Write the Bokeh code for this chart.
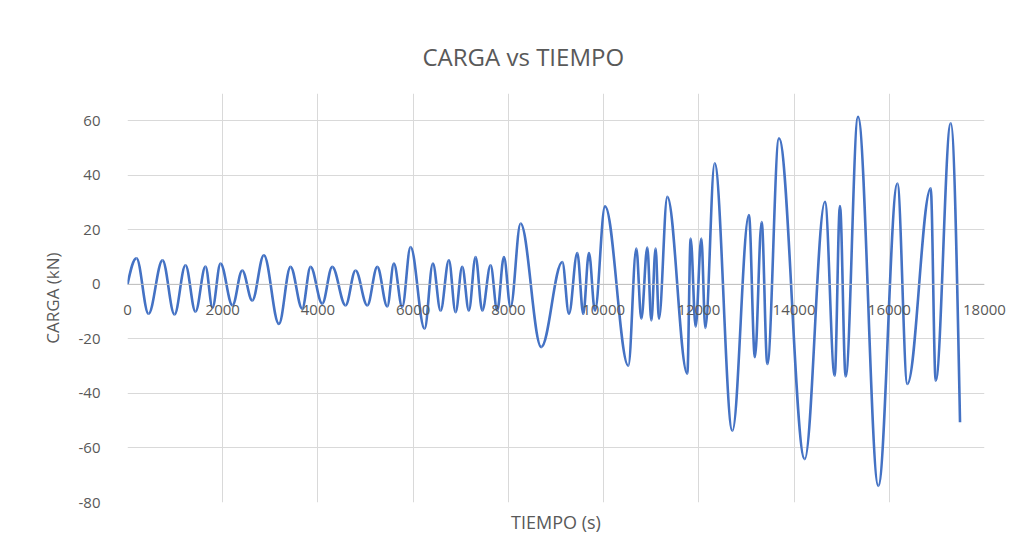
from bokeh.plotting import figure
from bokeh.models import ColumnDataSource, FixedTicker, Title, Span, Range1d
from bokeh.embed import file_html
from bokeh.resources import INLINE

# Load history (turning points of the curve)
tiempo = [0, 189, 441, 735, 987, 1218, 1428, 1638, 1785, 1953,
          2205, 2410, 2620, 2864, 3180, 3424, 3670, 3845, 4090, 4300,
          4580, 4790, 5036, 5246, 5456, 5595, 5770, 5945, 6240, 6414,
          6576, 6750, 6891, 7030, 7170, 7311, 7451, 7626, 7766, 7906,
          8046, 8256, 8690, 9132, 9272, 9447, 9573, 9692, 9818, 10030,
          10519, 10687, 10792, 10918, 11002, 11092, 11162, 11338, 11758, 11828,
          11933, 12052, 12137, 12332, 12704, 13052, 13178, 13319, 13439, 13683,
          14223, 14649, 14853, 14964, 15084, 15343, 15770, 16170, 16380, 16870,
          16975, 17290, 17486]
carga = [0, 9.6, -10.8, 8.8, -11.0, 7.0, -10.0, 6.5, -8.5, 7.6,
         -7.7, 5.1, -5.9, 10.7, -14.5, 6.4, -8.9, 6.4, -7.1, 6.4,
         -7.7, 5.1, -7.7, 6.4, -8.1, 7.6, -8.3, 13.7, -16.3, 7.6,
         -9.6, 8.8, -10.2, 6.4, -9.6, 10.0, -9.6, 7.0, -9.6, 10.0,
         -8.3, 22.3, -23.0, 8.2, -10.8, 11.5, -10.8, 11.5, -9.6, 28.6,
         -29.8, 13.1, -12.6, 13.5, -13.2, 13.1, -12.6, 32.1, -32.8, 16.8,
         -15.5, 16.8, -16.0, 44.4, -53.7, 25.4, -26.7, 22.9, -29.2, 53.6,
         -64.1, 30.3, -33.5, 28.7, -33.8, 61.5, -73.9, 37.0, -36.5, 35.2,
         -35.3, 59.1, -50.6]

x_ticks = [0, 2000, 4000, 6000, 8000, 10000, 12000, 14000, 16000, 18000]
y_ticks = [-80, -60, -40, -20, 0, 20, 40, 60]

titulo = "CARGA vs TIEMPO"
eje_x = "TIEMPO (s)"
eje_y = "CARGA (kN)"

# Smooth (Excel-like) rendering: cubic Bezier segments between turning points
k = 0.36
n = len(tiempo)
seg = dict(x0=[], y0=[], x1=[], y1=[], cx0=[], cy0=[], cx1=[], cy1=[])
for i in range(n - 1):
    xa, ya, xb, yb = tiempo[i], carga[i], tiempo[i + 1], carga[i + 1]
    dx, dy = xb - xa, yb - ya
    seg["x0"].append(xa); seg["y0"].append(ya)
    seg["x1"].append(xb); seg["y1"].append(yb)
    seg["cx0"].append(xa + k * dx)
    seg["cy0"].append(ya if i > 0 else ya + 0.57 * dy)
    seg["cx1"].append(xb - k * dx)
    seg["cy1"].append(yb if i + 1 < n - 1 else yb - 0.57 * dy)
src = ColumnDataSource(seg)

TXT = "#595959"
FONT = "Open Sans"

p = figure(width=1024, height=541, output_backend="svg", toolbar_location=None,
           x_range=Range1d(0, 18000), y_range=Range1d(-80, 70),
           min_border_left=127, min_border_right=40, min_border_top=93,
           min_border_bottom=39)
p.outline_line_color = None
p.background_fill_color = "white"
p.border_fill_color = "white"

# title (centred on the whole chart, like the reference)
p.title.text = titulo
p.title.align = "left"
p.title.offset = 295
p.title.text_font = FONT
p.title.text_font_size = "24px"
p.title.text_font_style = "normal"
p.title.text_color = TXT
if "standoff" in p.title.properties():
    p.title.standoff = 42

# grids
p.xgrid.ticker = FixedTicker(ticks=x_ticks)
p.ygrid.ticker = FixedTicker(ticks=y_ticks)
p.xgrid.grid_line_color = "#d9d9d9"
p.ygrid.grid_line_color = "#d9d9d9"

# horizontal axis line at zero
p.add_layout(Span(location=0, dimension="width", line_color="#bfbfbf", line_width=1))

p.bezier(x0="x0", y0="y0", x1="x1", y1="y1", cx0="cx0", cy0="cy0",
         cx1="cx1", cy1="cy1", source=src, line_color="#4472C4", line_width=2.6)

# x axis: labels lifted up to sit just below the zero line (Excel style)
xa = p.xaxis[0]
xa.ticker = FixedTicker(ticks=x_ticks)
xa.axis_line_color = None
xa.major_tick_line_color = None
xa.minor_tick_line_color = None
xa.major_tick_out = 0
xa.major_tick_in = 0
xa.major_label_text_font = FONT
xa.major_label_text_font_size = "15px"
xa.major_label_text_color = TXT
xa.major_label_standoff = -198

ya_ = p.yaxis[0]
ya_.ticker = FixedTicker(ticks=y_ticks)
ya_.major_label_overrides = {v: str(v) for v in y_ticks}
ya_.axis_line_color = None
ya_.major_tick_line_color = None
ya_.minor_tick_line_color = None
ya_.major_label_text_font = FONT
ya_.major_label_text_font_size = "15px"
ya_.major_label_text_color = TXT
ya_.major_label_standoff = 21
ya_.axis_label = eje_y
ya_.axis_label_text_font = FONT
ya_.axis_label_text_font_size = "17px"
ya_.axis_label_text_font_style = "normal"
ya_.axis_label_text_color = TXT
ya_.axis_label_standoff = 12

p.add_layout(Title(text=eje_x, align="center", text_font=FONT,
                   text_font_size="18px", text_font_style="normal",
                   text_color=TXT), "below")

open("out.html", "w").write(file_html(p, INLINE))
